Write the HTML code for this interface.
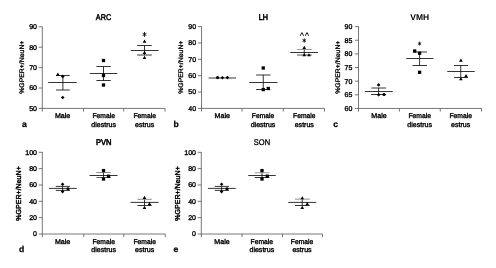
<!DOCTYPE html>
<html><head><meta charset="utf-8"><title>GPER</title>
<style>
html,body{margin:0;padding:0;background:#fff;}
body{width:496px;height:268px;overflow:hidden;}
svg{display:block;font-family:'Liberation Sans', sans-serif;fill:#000;text-rendering:geometricPrecision;will-change:transform;}
</style></head>
<body>
<svg width="496" height="268" viewBox="0 0 496 268">
<rect width="496" height="268" fill="#fff"/>
<line x1="42.30" y1="26.50" x2="42.30" y2="111.60" stroke="#555" stroke-width="0.8"/>
<line x1="38.70" y1="108.40" x2="165.00" y2="108.40" stroke="#555" stroke-width="0.8"/>
<line x1="83.50" y1="108.40" x2="83.50" y2="111.60" stroke="#555" stroke-width="0.8"/>
<line x1="123.70" y1="108.40" x2="123.70" y2="111.60" stroke="#555" stroke-width="0.8"/>
<line x1="165.00" y1="108.40" x2="165.00" y2="111.60" stroke="#555" stroke-width="0.8"/>
<line x1="38.70" y1="26.80" x2="42.30" y2="26.80" stroke="#555" stroke-width="0.8"/>
<text transform="translate(37.00 29.25)" font-size="7" text-anchor="end" font-weight="normal" stroke="#000" stroke-width="0.35" >90</text>
<line x1="38.70" y1="47.20" x2="42.30" y2="47.20" stroke="#555" stroke-width="0.8"/>
<text transform="translate(37.00 49.65)" font-size="7" text-anchor="end" font-weight="normal" stroke="#000" stroke-width="0.35" >80</text>
<line x1="38.70" y1="67.60" x2="42.30" y2="67.60" stroke="#555" stroke-width="0.8"/>
<text transform="translate(37.00 70.05)" font-size="7" text-anchor="end" font-weight="normal" stroke="#000" stroke-width="0.35" >70</text>
<line x1="38.70" y1="88.00" x2="42.30" y2="88.00" stroke="#555" stroke-width="0.8"/>
<text transform="translate(37.00 90.45)" font-size="7" text-anchor="end" font-weight="normal" stroke="#000" stroke-width="0.35" >60</text>
<text transform="translate(37.00 110.85)" font-size="7" text-anchor="end" font-weight="normal" stroke="#000" stroke-width="0.35" >50</text>
<text transform="translate(24.40 67.20) rotate(-90) scale(1.0434 1)" font-size="6.6" text-anchor="middle" font-weight="normal" stroke="#000" stroke-width="0.3" >%GPER+/NeuN+</text>
<text transform="translate(103.50 19.90) scale(0.8731 1)" font-size="8.3" text-anchor="middle" font-weight="normal" stroke="#000" stroke-width="0.45" >ARC</text>
<text transform="translate(24.40 127.00)" font-size="8.6" text-anchor="middle" font-weight="bold" stroke="#000" stroke-width="0.25" >a</text>
<text transform="translate(62.60 118.10) scale(1.0150 1)" font-size="7" text-anchor="middle" font-weight="normal" stroke="#000" stroke-width="0.35" >Male</text>
<text transform="translate(103.70 118.10) scale(0.9597 1)" font-size="7" text-anchor="middle" font-weight="normal" stroke="#000" stroke-width="0.35" >Female</text>
<text transform="translate(103.70 126.90) scale(1.0077 1)" font-size="7" text-anchor="middle" font-weight="normal" stroke="#000" stroke-width="0.35" >diestrus</text>
<text transform="translate(144.70 118.10) scale(0.9597 1)" font-size="7" text-anchor="middle" font-weight="normal" stroke="#000" stroke-width="0.35" >Female</text>
<text transform="translate(144.70 126.90) scale(1.0072 1)" font-size="7" text-anchor="middle" font-weight="normal" stroke="#000" stroke-width="0.35" >estrus</text>
<line x1="48.25" y1="82.50" x2="76.75" y2="82.50" stroke="#111" stroke-width="0.85"/>
<line x1="62.90" y1="75.50" x2="62.90" y2="90.00" stroke="#111" stroke-width="0.85"/>
<line x1="56.00" y1="75.50" x2="69.75" y2="75.50" stroke="#111" stroke-width="0.85"/>
<line x1="56.00" y1="90.00" x2="69.75" y2="90.00" stroke="#111" stroke-width="0.85"/>
<path d="M57.90 72.60 L59.75 75.70 L56.05 75.70Z" fill="#000"/>
<circle cx="62.75" cy="76.25" r="1.55" fill="#000"/>
<path d="M62.75 95.70 L64.55 97.50 L62.75 99.30 L60.95 97.50Z" fill="#000"/>
<line x1="89.90" y1="73.50" x2="117.25" y2="73.50" stroke="#111" stroke-width="0.85"/>
<line x1="103.50" y1="66.50" x2="103.50" y2="80.50" stroke="#111" stroke-width="0.85"/>
<line x1="96.40" y1="66.50" x2="110.75" y2="66.50" stroke="#111" stroke-width="0.85"/>
<line x1="96.40" y1="80.50" x2="110.75" y2="80.50" stroke="#111" stroke-width="0.85"/>
<rect x="101.85" y="58.85" width="3.30" height="3.30" fill="#000"/>
<rect x="101.85" y="73.85" width="3.30" height="3.30" fill="#000"/>
<rect x="101.85" y="83.35" width="3.30" height="3.30" fill="#000"/>
<line x1="130.90" y1="50.50" x2="158.60" y2="50.50" stroke="#111" stroke-width="0.85"/>
<line x1="144.50" y1="45.50" x2="144.50" y2="55.00" stroke="#111" stroke-width="0.85"/>
<line x1="137.10" y1="45.50" x2="151.75" y2="45.50" stroke="#111" stroke-width="0.85"/>
<line x1="137.10" y1="55.00" x2="151.75" y2="55.00" stroke="#111" stroke-width="0.85"/>
<path d="M144.50 39.55 L146.35 42.65 L142.65 42.65Z" fill="#000"/>
<path d="M144.50 50.80 L146.35 53.90 L142.65 53.90Z" fill="#000"/>
<path d="M144.50 55.80 L146.35 58.90 L142.65 58.90Z" fill="#000"/>
<line x1="144.50" y1="31.98" x2="144.50" y2="36.82" stroke="#000" stroke-width="0.85"/>
<line x1="142.59" y1="33.30" x2="146.41" y2="35.50" stroke="#000" stroke-width="0.85"/>
<line x1="146.41" y1="33.30" x2="142.59" y2="35.50" stroke="#000" stroke-width="0.85"/>
<line x1="201.55" y1="26.30" x2="201.55" y2="111.60" stroke="#555" stroke-width="0.8"/>
<line x1="197.95" y1="108.40" x2="324.50" y2="108.40" stroke="#555" stroke-width="0.8"/>
<line x1="242.00" y1="108.40" x2="242.00" y2="111.60" stroke="#555" stroke-width="0.8"/>
<line x1="283.25" y1="108.40" x2="283.25" y2="111.60" stroke="#555" stroke-width="0.8"/>
<line x1="324.50" y1="108.40" x2="324.50" y2="111.60" stroke="#555" stroke-width="0.8"/>
<line x1="197.95" y1="26.60" x2="201.55" y2="26.60" stroke="#555" stroke-width="0.8"/>
<text transform="translate(196.05 29.05)" font-size="7" text-anchor="end" font-weight="normal" stroke="#000" stroke-width="0.35" >90</text>
<line x1="197.95" y1="42.96" x2="201.55" y2="42.96" stroke="#555" stroke-width="0.8"/>
<text transform="translate(196.05 45.41)" font-size="7" text-anchor="end" font-weight="normal" stroke="#000" stroke-width="0.35" >80</text>
<line x1="197.95" y1="59.32" x2="201.55" y2="59.32" stroke="#555" stroke-width="0.8"/>
<text transform="translate(196.05 61.77)" font-size="7" text-anchor="end" font-weight="normal" stroke="#000" stroke-width="0.35" >70</text>
<line x1="197.95" y1="75.68" x2="201.55" y2="75.68" stroke="#555" stroke-width="0.8"/>
<text transform="translate(196.05 78.13)" font-size="7" text-anchor="end" font-weight="normal" stroke="#000" stroke-width="0.35" >60</text>
<line x1="197.95" y1="92.04" x2="201.55" y2="92.04" stroke="#555" stroke-width="0.8"/>
<text transform="translate(196.05 94.49)" font-size="7" text-anchor="end" font-weight="normal" stroke="#000" stroke-width="0.35" >50</text>
<text transform="translate(196.05 110.85)" font-size="7" text-anchor="end" font-weight="normal" stroke="#000" stroke-width="0.35" >40</text>
<text transform="translate(182.70 67.20) rotate(-90) scale(1.0434 1)" font-size="6.6" text-anchor="middle" font-weight="normal" stroke="#000" stroke-width="0.3" >%GPER+/NeuN+</text>
<text transform="translate(263.30 19.90) scale(0.8577 1)" font-size="8.3" text-anchor="middle" font-weight="normal" stroke="#000" stroke-width="0.6" >LH</text>
<text transform="translate(176.10 127.00)" font-size="8.6" text-anchor="middle" font-weight="bold" stroke="#000" stroke-width="0.25" >b</text>
<text transform="translate(222.30 118.10) scale(1.0150 1)" font-size="7" text-anchor="middle" font-weight="normal" stroke="#000" stroke-width="0.35" >Male</text>
<text transform="translate(263.00 118.10) scale(0.9597 1)" font-size="7" text-anchor="middle" font-weight="normal" stroke="#000" stroke-width="0.35" >Female</text>
<text transform="translate(263.00 126.90) scale(1.0077 1)" font-size="7" text-anchor="middle" font-weight="normal" stroke="#000" stroke-width="0.35" >diestrus</text>
<text transform="translate(304.30 118.10) scale(0.9597 1)" font-size="7" text-anchor="middle" font-weight="normal" stroke="#000" stroke-width="0.35" >Female</text>
<text transform="translate(304.30 126.90) scale(1.0072 1)" font-size="7" text-anchor="middle" font-weight="normal" stroke="#000" stroke-width="0.35" >estrus</text>
<line x1="208.60" y1="78.00" x2="236.00" y2="78.00" stroke="#111" stroke-width="0.85"/>
<circle cx="217.60" cy="77.60" r="1.55" fill="#000"/>
<path d="M222.40 76.00 L224.20 77.80 L222.40 79.60 L220.60 77.80Z" fill="#000"/>
<path d="M227.40 75.80 L229.20 77.60 L227.40 79.40 L225.60 77.60Z" fill="#000"/>
<line x1="249.25" y1="82.50" x2="277.60" y2="82.50" stroke="#111" stroke-width="0.85"/>
<line x1="263.25" y1="75.00" x2="263.25" y2="89.50" stroke="#111" stroke-width="0.85"/>
<line x1="256.10" y1="75.00" x2="270.40" y2="75.00" stroke="#111" stroke-width="0.85"/>
<line x1="256.10" y1="89.50" x2="270.40" y2="89.50" stroke="#111" stroke-width="0.85"/>
<rect x="261.60" y="66.35" width="3.30" height="3.30" fill="#000"/>
<rect x="261.60" y="87.95" width="3.30" height="3.30" fill="#000"/>
<rect x="266.60" y="86.85" width="3.30" height="3.30" fill="#000"/>
<line x1="290.25" y1="52.50" x2="318.00" y2="52.50" stroke="#111" stroke-width="0.85"/>
<line x1="304.25" y1="49.50" x2="304.25" y2="55.00" stroke="#111" stroke-width="0.85"/>
<line x1="297.00" y1="49.50" x2="311.75" y2="49.50" stroke="#888" stroke-width="0.85"/>
<line x1="297.00" y1="55.00" x2="311.75" y2="55.00" stroke="#333" stroke-width="0.85"/>
<path d="M304.25 45.80 L306.10 48.90 L302.40 48.90Z" fill="#000"/>
<path d="M304.25 53.20 L306.10 56.30 L302.40 56.30Z" fill="#000"/>
<path d="M309.00 53.20 L310.85 56.30 L307.15 56.30Z" fill="#000"/>
<line x1="304.25" y1="38.30" x2="304.25" y2="42.70" stroke="#000" stroke-width="0.85"/>
<line x1="302.52" y1="39.50" x2="305.98" y2="41.50" stroke="#000" stroke-width="0.85"/>
<line x1="305.98" y1="39.50" x2="302.52" y2="41.50" stroke="#000" stroke-width="0.85"/>
<path d="M300.15 35.80 L301.90 32.60 L303.65 35.80" fill="none" stroke="#000" stroke-width="0.9"/>
<path d="M305.25 35.80 L307.00 32.60 L308.75 35.80" fill="none" stroke="#000" stroke-width="0.9"/>
<line x1="358.50" y1="26.30" x2="358.50" y2="111.65" stroke="#555" stroke-width="0.8"/>
<line x1="354.90" y1="108.45" x2="481.50" y2="108.45" stroke="#555" stroke-width="0.8"/>
<line x1="399.40" y1="108.45" x2="399.40" y2="111.65" stroke="#555" stroke-width="0.8"/>
<line x1="440.25" y1="108.45" x2="440.25" y2="111.65" stroke="#555" stroke-width="0.8"/>
<line x1="481.50" y1="108.45" x2="481.50" y2="111.65" stroke="#555" stroke-width="0.8"/>
<line x1="354.90" y1="26.60" x2="358.50" y2="26.60" stroke="#555" stroke-width="0.8"/>
<text transform="translate(352.40 29.05)" font-size="7" text-anchor="end" font-weight="normal" stroke="#000" stroke-width="0.35" >90</text>
<line x1="354.90" y1="40.24" x2="358.50" y2="40.24" stroke="#555" stroke-width="0.8"/>
<text transform="translate(352.40 42.69)" font-size="7" text-anchor="end" font-weight="normal" stroke="#000" stroke-width="0.35" >85</text>
<line x1="354.90" y1="53.88" x2="358.50" y2="53.88" stroke="#555" stroke-width="0.8"/>
<text transform="translate(352.40 56.33)" font-size="7" text-anchor="end" font-weight="normal" stroke="#000" stroke-width="0.35" >80</text>
<line x1="354.90" y1="67.53" x2="358.50" y2="67.53" stroke="#555" stroke-width="0.8"/>
<text transform="translate(352.40 69.98)" font-size="7" text-anchor="end" font-weight="normal" stroke="#000" stroke-width="0.35" >75</text>
<line x1="354.90" y1="81.17" x2="358.50" y2="81.17" stroke="#555" stroke-width="0.8"/>
<text transform="translate(352.40 83.62)" font-size="7" text-anchor="end" font-weight="normal" stroke="#000" stroke-width="0.35" >70</text>
<line x1="354.90" y1="94.81" x2="358.50" y2="94.81" stroke="#555" stroke-width="0.8"/>
<text transform="translate(352.40 97.26)" font-size="7" text-anchor="end" font-weight="normal" stroke="#000" stroke-width="0.35" >65</text>
<text transform="translate(352.40 110.90)" font-size="7" text-anchor="end" font-weight="normal" stroke="#000" stroke-width="0.35" >60</text>
<text transform="translate(340.10 67.20) rotate(-90) scale(1.0434 1)" font-size="6.6" text-anchor="middle" font-weight="normal" stroke="#000" stroke-width="0.3" >%GPER+/NeuN+</text>
<text transform="translate(419.70 19.90) scale(1.0247 1)" font-size="8.3" text-anchor="middle" font-weight="bold" >VMH</text>
<text transform="translate(335.70 127.00)" font-size="8.6" text-anchor="middle" font-weight="bold" stroke="#000" stroke-width="0.25" >c</text>
<text transform="translate(379.00 118.10) scale(1.0150 1)" font-size="7" text-anchor="middle" font-weight="normal" stroke="#000" stroke-width="0.35" >Male</text>
<text transform="translate(419.70 118.10) scale(0.9597 1)" font-size="7" text-anchor="middle" font-weight="normal" stroke="#000" stroke-width="0.35" >Female</text>
<text transform="translate(419.70 126.90) scale(1.0077 1)" font-size="7" text-anchor="middle" font-weight="normal" stroke="#000" stroke-width="0.35" >diestrus</text>
<text transform="translate(460.70 118.10) scale(0.9597 1)" font-size="7" text-anchor="middle" font-weight="normal" stroke="#000" stroke-width="0.35" >Female</text>
<text transform="translate(460.70 126.90) scale(1.0072 1)" font-size="7" text-anchor="middle" font-weight="normal" stroke="#000" stroke-width="0.35" >estrus</text>
<line x1="364.90" y1="91.50" x2="392.75" y2="91.50" stroke="#111" stroke-width="0.85"/>
<line x1="378.60" y1="88.00" x2="378.60" y2="94.50" stroke="#111" stroke-width="0.85"/>
<line x1="371.40" y1="88.00" x2="386.10" y2="88.00" stroke="#111" stroke-width="0.85"/>
<line x1="371.10" y1="94.50" x2="386.10" y2="94.50" stroke="#111" stroke-width="0.85"/>
<path d="M378.60 83.10 L380.40 84.90 L378.60 86.70 L376.80 84.90Z" fill="#000"/>
<path d="M378.60 93.00 L380.40 94.80 L378.60 96.60 L376.80 94.80Z" fill="#000"/>
<circle cx="384.00" cy="94.50" r="1.55" fill="#000"/>
<line x1="406.20" y1="58.50" x2="433.50" y2="58.50" stroke="#111" stroke-width="0.85"/>
<line x1="419.60" y1="52.00" x2="419.60" y2="65.50" stroke="#111" stroke-width="0.85"/>
<line x1="412.90" y1="52.00" x2="427.00" y2="52.00" stroke="#111" stroke-width="0.85"/>
<line x1="412.50" y1="65.50" x2="427.00" y2="65.50" stroke="#111" stroke-width="0.85"/>
<rect x="413.05" y="49.35" width="3.30" height="3.30" fill="#000"/>
<rect x="417.95" y="51.55" width="3.30" height="3.30" fill="#000"/>
<rect x="417.95" y="70.65" width="3.30" height="3.30" fill="#000"/>
<line x1="447.25" y1="71.50" x2="474.75" y2="71.50" stroke="#111" stroke-width="0.85"/>
<line x1="460.75" y1="65.50" x2="460.75" y2="77.50" stroke="#111" stroke-width="0.85"/>
<line x1="454.00" y1="65.50" x2="468.10" y2="65.50" stroke="#111" stroke-width="0.85"/>
<line x1="454.00" y1="77.50" x2="468.10" y2="77.50" stroke="#111" stroke-width="0.85"/>
<path d="M460.90 58.55 L462.75 61.65 L459.05 61.65Z" fill="#000"/>
<path d="M466.00 74.05 L467.85 77.15 L464.15 77.15Z" fill="#000"/>
<path d="M460.90 77.20 L462.75 80.30 L459.05 80.30Z" fill="#000"/>
<line x1="419.60" y1="41.62" x2="419.60" y2="45.58" stroke="#000" stroke-width="0.8"/>
<line x1="418.04" y1="42.70" x2="421.16" y2="44.50" stroke="#000" stroke-width="0.8"/>
<line x1="421.16" y1="42.70" x2="418.04" y2="44.50" stroke="#000" stroke-width="0.8"/>
<line x1="42.30" y1="152.00" x2="42.30" y2="237.20" stroke="#555" stroke-width="0.8"/>
<line x1="38.70" y1="234.00" x2="165.25" y2="234.00" stroke="#555" stroke-width="0.8"/>
<line x1="83.75" y1="234.00" x2="83.75" y2="237.20" stroke="#555" stroke-width="0.8"/>
<line x1="123.75" y1="234.00" x2="123.75" y2="237.20" stroke="#555" stroke-width="0.8"/>
<line x1="165.25" y1="234.00" x2="165.25" y2="237.20" stroke="#555" stroke-width="0.8"/>
<line x1="38.70" y1="152.30" x2="42.30" y2="152.30" stroke="#555" stroke-width="0.8"/>
<text transform="translate(37.00 154.75)" font-size="7" text-anchor="end" font-weight="normal" stroke="#000" stroke-width="0.35" >100</text>
<line x1="38.70" y1="168.64" x2="42.30" y2="168.64" stroke="#555" stroke-width="0.8"/>
<text transform="translate(37.00 171.09)" font-size="7" text-anchor="end" font-weight="normal" stroke="#000" stroke-width="0.35" >80</text>
<line x1="38.70" y1="184.98" x2="42.30" y2="184.98" stroke="#555" stroke-width="0.8"/>
<text transform="translate(37.00 187.43)" font-size="7" text-anchor="end" font-weight="normal" stroke="#000" stroke-width="0.35" >60</text>
<line x1="38.70" y1="201.32" x2="42.30" y2="201.32" stroke="#555" stroke-width="0.8"/>
<text transform="translate(37.00 203.77)" font-size="7" text-anchor="end" font-weight="normal" stroke="#000" stroke-width="0.35" >40</text>
<line x1="38.70" y1="217.66" x2="42.30" y2="217.66" stroke="#555" stroke-width="0.8"/>
<text transform="translate(37.00 220.11)" font-size="7" text-anchor="end" font-weight="normal" stroke="#000" stroke-width="0.35" >20</text>
<text transform="translate(37.00 236.45)" font-size="7" text-anchor="end" font-weight="normal" stroke="#000" stroke-width="0.35" >0</text>
<text transform="translate(20.50 193.50) rotate(-90) scale(0.9816 1)" font-size="7.2" text-anchor="middle" font-weight="normal" stroke="#000" stroke-width="0.4" >%GPER+/NeuN+</text>
<text transform="translate(103.70 144.90) scale(0.9141 1)" font-size="8.3" text-anchor="middle" font-weight="normal" stroke="#000" stroke-width="0.55" >PVN</text>
<text transform="translate(21.70 252.00)" font-size="8.6" text-anchor="middle" font-weight="bold" stroke="#000" stroke-width="0.25" >d</text>
<text transform="translate(62.60 244.05) scale(1.0150 1)" font-size="7" text-anchor="middle" font-weight="normal" stroke="#000" stroke-width="0.35" >Male</text>
<text transform="translate(103.70 244.05) scale(0.9597 1)" font-size="7" text-anchor="middle" font-weight="normal" stroke="#000" stroke-width="0.35" >Female</text>
<text transform="translate(103.70 251.70) scale(1.0077 1)" font-size="7" text-anchor="middle" font-weight="normal" stroke="#000" stroke-width="0.35" >diestrus</text>
<text transform="translate(144.70 244.05) scale(0.9597 1)" font-size="7" text-anchor="middle" font-weight="normal" stroke="#000" stroke-width="0.35" >Female</text>
<text transform="translate(144.70 251.70) scale(1.0072 1)" font-size="7" text-anchor="middle" font-weight="normal" stroke="#000" stroke-width="0.35" >estrus</text>
<line x1="48.90" y1="188.40" x2="76.75" y2="188.40" stroke="#111" stroke-width="0.85"/>
<line x1="62.60" y1="186.40" x2="62.60" y2="190.40" stroke="#111" stroke-width="0.85"/>
<line x1="55.75" y1="186.40" x2="69.90" y2="186.40" stroke="#111" stroke-width="0.85"/>
<line x1="55.75" y1="190.40" x2="69.90" y2="190.40" stroke="#111" stroke-width="0.85"/>
<path d="M62.60 182.45 L64.40 184.25 L62.60 186.05 L60.80 184.25Z" fill="#000"/>
<path d="M62.60 189.80 L64.40 191.60 L62.60 193.40 L60.80 191.60Z" fill="#000"/>
<circle cx="68.00" cy="188.90" r="1.55" fill="#000"/>
<line x1="89.50" y1="175.50" x2="117.60" y2="175.50" stroke="#111" stroke-width="0.85"/>
<line x1="103.50" y1="172.50" x2="103.50" y2="177.50" stroke="#111" stroke-width="0.85"/>
<line x1="96.40" y1="172.50" x2="110.75" y2="172.50" stroke="#777" stroke-width="0.85"/>
<line x1="96.40" y1="177.50" x2="110.75" y2="177.50" stroke="#444" stroke-width="0.85"/>
<rect x="101.85" y="168.95" width="3.30" height="3.30" fill="#000"/>
<rect x="106.85" y="174.60" width="3.30" height="3.30" fill="#000"/>
<rect x="101.85" y="177.35" width="3.30" height="3.30" fill="#000"/>
<line x1="130.50" y1="202.40" x2="158.60" y2="202.40" stroke="#111" stroke-width="0.85"/>
<line x1="144.50" y1="199.30" x2="144.50" y2="205.50" stroke="#111" stroke-width="0.85"/>
<line x1="137.40" y1="199.30" x2="151.75" y2="199.30" stroke="#777" stroke-width="0.85"/>
<line x1="137.40" y1="205.50" x2="151.75" y2="205.50" stroke="#111" stroke-width="0.85"/>
<path d="M144.50 195.80 L146.35 198.90 L142.65 198.90Z" fill="#000"/>
<path d="M149.50 202.05 L151.35 205.15 L147.65 205.15Z" fill="#000"/>
<path d="M144.50 205.80 L146.35 208.90 L142.65 208.90Z" fill="#000"/>
<line x1="201.30" y1="152.00" x2="201.30" y2="237.20" stroke="#555" stroke-width="0.8"/>
<line x1="197.70" y1="234.00" x2="322.50" y2="234.00" stroke="#555" stroke-width="0.8"/>
<line x1="242.00" y1="234.00" x2="242.00" y2="237.20" stroke="#555" stroke-width="0.8"/>
<line x1="282.50" y1="234.00" x2="282.50" y2="237.20" stroke="#555" stroke-width="0.8"/>
<line x1="322.50" y1="234.00" x2="322.50" y2="237.20" stroke="#555" stroke-width="0.8"/>
<line x1="197.70" y1="152.30" x2="201.30" y2="152.30" stroke="#555" stroke-width="0.8"/>
<text transform="translate(196.00 154.75)" font-size="7" text-anchor="end" font-weight="normal" stroke="#000" stroke-width="0.35" >100</text>
<line x1="197.70" y1="168.64" x2="201.30" y2="168.64" stroke="#555" stroke-width="0.8"/>
<text transform="translate(196.00 171.09)" font-size="7" text-anchor="end" font-weight="normal" stroke="#000" stroke-width="0.35" >80</text>
<line x1="197.70" y1="184.98" x2="201.30" y2="184.98" stroke="#555" stroke-width="0.8"/>
<text transform="translate(196.00 187.43)" font-size="7" text-anchor="end" font-weight="normal" stroke="#000" stroke-width="0.35" >60</text>
<line x1="197.70" y1="201.32" x2="201.30" y2="201.32" stroke="#555" stroke-width="0.8"/>
<text transform="translate(196.00 203.77)" font-size="7" text-anchor="end" font-weight="normal" stroke="#000" stroke-width="0.35" >40</text>
<line x1="197.70" y1="217.66" x2="201.30" y2="217.66" stroke="#555" stroke-width="0.8"/>
<text transform="translate(196.00 220.11)" font-size="7" text-anchor="end" font-weight="normal" stroke="#000" stroke-width="0.35" >20</text>
<text transform="translate(196.00 236.45)" font-size="7" text-anchor="end" font-weight="normal" stroke="#000" stroke-width="0.35" >0</text>
<text transform="translate(179.50 193.50) rotate(-90) scale(0.9816 1)" font-size="7.2" text-anchor="middle" font-weight="normal" stroke="#000" stroke-width="0.4" >%GPER+/NeuN+</text>
<text transform="translate(262.00 144.90) scale(0.9063 1)" font-size="8.3" text-anchor="middle" font-weight="normal" stroke="#000" stroke-width="0.3" >SON</text>
<text transform="translate(175.90 252.10)" font-size="8.6" text-anchor="middle" font-weight="bold" stroke="#000" stroke-width="0.25" >e</text>
<text transform="translate(222.00 244.05) scale(1.0150 1)" font-size="7" text-anchor="middle" font-weight="normal" stroke="#000" stroke-width="0.35" >Male</text>
<text transform="translate(261.80 244.05) scale(0.9597 1)" font-size="7" text-anchor="middle" font-weight="normal" stroke="#000" stroke-width="0.35" >Female</text>
<text transform="translate(261.80 251.70) scale(1.0077 1)" font-size="7" text-anchor="middle" font-weight="normal" stroke="#000" stroke-width="0.35" >diestrus</text>
<text transform="translate(302.00 244.05) scale(0.9597 1)" font-size="7" text-anchor="middle" font-weight="normal" stroke="#000" stroke-width="0.35" >Female</text>
<text transform="translate(302.00 251.70) scale(1.0072 1)" font-size="7" text-anchor="middle" font-weight="normal" stroke="#000" stroke-width="0.35" >estrus</text>
<line x1="207.90" y1="188.40" x2="235.75" y2="188.40" stroke="#111" stroke-width="0.85"/>
<line x1="221.60" y1="186.40" x2="221.60" y2="190.40" stroke="#111" stroke-width="0.85"/>
<line x1="214.75" y1="186.40" x2="228.90" y2="186.40" stroke="#111" stroke-width="0.85"/>
<line x1="214.75" y1="190.40" x2="228.90" y2="190.40" stroke="#111" stroke-width="0.85"/>
<path d="M221.60 182.45 L223.40 184.25 L221.60 186.05 L219.80 184.25Z" fill="#000"/>
<path d="M221.60 189.80 L223.40 191.60 L221.60 193.40 L219.80 191.60Z" fill="#000"/>
<circle cx="227.00" cy="188.90" r="1.55" fill="#000"/>
<line x1="248.25" y1="175.50" x2="275.75" y2="175.50" stroke="#111" stroke-width="0.85"/>
<line x1="262.00" y1="172.75" x2="262.00" y2="177.50" stroke="#111" stroke-width="0.85"/>
<line x1="254.75" y1="172.75" x2="269.50" y2="172.75" stroke="#888" stroke-width="0.85"/>
<line x1="254.75" y1="177.50" x2="269.50" y2="177.50" stroke="#111" stroke-width="0.85"/>
<rect x="260.35" y="168.95" width="3.30" height="3.30" fill="#000"/>
<rect x="265.60" y="174.60" width="3.30" height="3.30" fill="#000"/>
<rect x="260.35" y="177.35" width="3.30" height="3.30" fill="#000"/>
<line x1="288.25" y1="202.40" x2="316.25" y2="202.40" stroke="#111" stroke-width="0.85"/>
<line x1="302.25" y1="199.10" x2="302.25" y2="205.50" stroke="#111" stroke-width="0.85"/>
<line x1="295.00" y1="199.10" x2="309.75" y2="199.10" stroke="#777" stroke-width="0.85"/>
<line x1="295.00" y1="205.50" x2="309.75" y2="205.50" stroke="#111" stroke-width="0.85"/>
<path d="M302.25 196.20 L304.10 199.30 L300.40 199.30Z" fill="#000"/>
<path d="M307.25 202.05 L309.10 205.15 L305.40 205.15Z" fill="#000"/>
<path d="M302.25 205.80 L304.10 208.90 L300.40 208.90Z" fill="#000"/>
</svg>
</body></html>
